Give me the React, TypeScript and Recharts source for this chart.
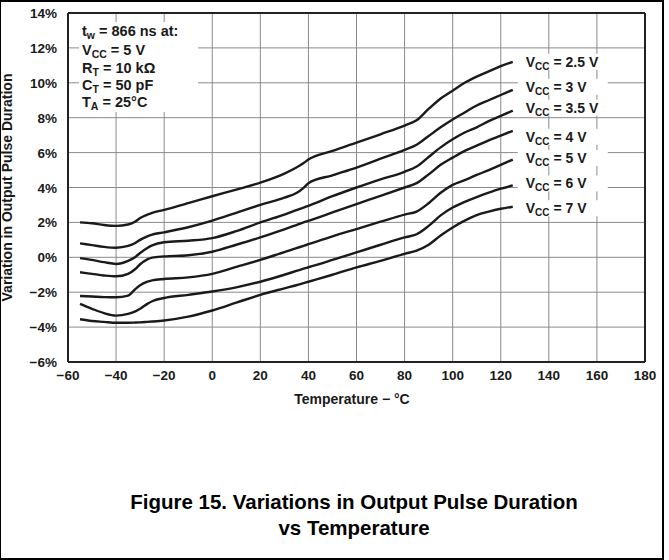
import { CartesianGrid, LabelList, Line, LineChart, ReferenceLine, XAxis, YAxis } from "recharts";

// Temperature points (°C) shared by all curves.
const TEMPS = [
  -55, -50, -45, -40, -35, -32, -30, -27, -25, -20, -10, 0, 10, 20, 30, 35, 38, 40, 50, 60, 70, 80,
  85, 90, 95, 100, 105, 110, 115, 120, 125,
];

// Variation in output pulse duration (%) per supply voltage.
const VCC_2_5 = [
  2.0, 1.95, 1.85, 1.8, 1.88, 2.05, 2.25, 2.45, 2.55, 2.72, 3.1, 3.5, 3.88, 4.28, 4.8, 5.15, 5.4, 5.6,
  6.1, 6.57, 7.05, 7.55, 7.85, 8.5, 9.1, 9.55, 10.0, 10.35, 10.65, 10.95, 11.2,
];
const VCC_3 = [
  0.8, 0.7, 0.6, 0.55, 0.65, 0.82, 1.0, 1.2, 1.3, 1.43, 1.72, 2.1, 2.55, 3.0, 3.42, 3.68, 3.98, 4.25,
  4.7, 5.14, 5.65, 6.15, 6.45, 6.95, 7.45, 7.9, 8.3, 8.7, 9.0, 9.3, 9.6,
];
const VCC_3_5 = [
  -0.05, -0.15, -0.28, -0.38, -0.2, 0.02, 0.25, 0.53, 0.68, 0.86, 0.95, 1.1, 1.5, 2.0, 2.45, 2.7, 2.85,
  2.95, 3.5, 4.0, 4.47, 4.9, 5.2, 5.75, 6.3, 6.76, 7.15, 7.45, 7.8, 8.1, 8.4,
];
const VCC_4 = [
  -0.86, -0.95, -1.04, -1.09, -0.95, -0.67, -0.4, -0.12, -0.02, 0.05, 0.12, 0.32, 0.72, 1.14, 1.6, 1.85,
  2.0, 2.09, 2.57, 3.05, 3.52, 4.0, 4.25, 4.75, 5.3, 5.71, 6.1, 6.4, 6.7, 6.97, 7.25,
];
const VCC_5 = [
  -2.22, -2.25, -2.28, -2.29, -2.2, -1.82, -1.6, -1.4, -1.32, -1.24, -1.15, -0.95, -0.55, -0.15, 0.3,
  0.52, 0.66, 0.75, 1.2, 1.62, 2.04, 2.45, 2.62, 3.1, 3.7, 4.15, 4.42, 4.72, 5.0, 5.3, 5.6,
];
const VCC_6 = [
  -2.67, -2.95, -3.2, -3.34, -3.24, -3.1, -2.95, -2.67, -2.52, -2.33, -2.15, -1.96, -1.72, -1.4, -1.0,
  -0.78, -0.65, -0.57, -0.15, 0.28, 0.72, 1.14, 1.32, 1.8, 2.4, 2.85, 3.18, 3.45, 3.7, 3.93, 4.12,
];
const VCC_7 = [
  -3.55, -3.65, -3.7, -3.75, -3.75, -3.74, -3.73, -3.7, -3.68, -3.62, -3.4, -3.05, -2.6, -2.15, -1.78,
  -1.6, -1.48, -1.4, -1.0, -0.58, -0.2, 0.2, 0.38, 0.72, 1.25, 1.71, 2.1, 2.42, 2.62, 2.78, 2.9,
];

const SERIES = [
  { key: "v25", name: "2.5 V", values: VCC_2_5 },
  { key: "v3", name: "3 V", values: VCC_3 },
  { key: "v35", name: "3.5 V", values: VCC_3_5 },
  { key: "v4", name: "4 V", values: VCC_4 },
  { key: "v5", name: "5 V", values: VCC_5 },
  { key: "v6", name: "6 V", values: VCC_6 },
  { key: "v7", name: "7 V", values: VCC_7 },
];

const X_TICKS = [-60, -40, -20, 0, 20, 40, 60, 80, 100, 120, 140, 160, 180];
const Y_TICKS = [-6, -4, -2, 0, 2, 4, 6, 8, 10, 12, 14];

// small vertical nudges so the end labels don't collide (px)
const LABEL_DY = [0, -3, -3, 6, -1.5, -2, 1.5];

const FONT = "'Liberation Sans', Arial, Helvetica, sans-serif";
const INK = "#1a1a1a";

const data = TEMPS.map((t, i) => {
  const row: Record<string, number> = { t };
  SERIES.forEach((s) => {
    row[s.key] = s.values[i];
  });
  return row;
});

const minus = (v: number) => (v < 0 ? `\u2212${Math.abs(v)}` : `${v}`);

function XTick({ x, y, payload }: any) {
  return (
    <text x={x} y={y + 18} textAnchor="middle" fontFamily={FONT} fontWeight="bold" fontSize={13.5} fill={INK}>
      {minus(payload.value)}
    </text>
  );
}

function YTick({ x, y, payload }: any) {
  return (
    <text x={x - 11} y={y + 5} textAnchor="end" fontFamily={FONT} fontWeight="bold" fontSize={13.5} fill={INK}>
      {minus(payload.value)}%
    </text>
  );
}

function endLabel(seriesIndex: number) {
  const last = TEMPS.length - 1;
  return (props: any) => {
    const { x, y, index } = props;
    if (index !== last) return <g />;
    const cy = y + LABEL_DY[seriesIndex];
    return (
      <g>
        <rect x={x + 5} y={cy - 8} width={90} height={16} fill="#fff" />
        <text x={x + 13} y={cy + 5} fontFamily={FONT} fontWeight="bold" fontSize={14} fill={INK}>
          V
          <tspan fontSize={10} dy={3}>
            CC
          </tspan>
          <tspan dy={-3}> = {SERIES[seriesIndex].name}</tspan>
        </text>
      </g>
    );
  };
}

function Sub({ main, sub, rest, y }: { main: string; sub: string; rest: string; y: number }) {
  return (
    <text x={82} y={y} fontFamily={FONT} fontWeight="bold" fontSize={14.5} fill={INK}>
      {main}
      <tspan fontSize={10.5} dy={3}>
        {sub}
      </tspan>
      <tspan dy={-3}>{rest}</tspan>
    </text>
  );
}

export default function App() {
  return (
    <div style={{ position: "relative", width: 669, height: 560, background: "#fff" }}>
      <style>{`body{margin:0}`}</style>
      <LineChart width={669} height={560} data={data} margin={{ top: 13, right: 24, left: 0, bottom: 150 }}>
        <CartesianGrid stroke="#8a8a8a" strokeWidth={1} />
        <XAxis
          dataKey="t"
          type="number"
          domain={[-60, 180]}
          ticks={X_TICKS}
          height={48}
          tickLine={false}
          tickSize={0}
          tickMargin={0}
          axisLine={{ stroke: "#222", strokeWidth: 2 }}
          tick={<XTick />}
          interval={0}
        />
        <YAxis
          type="number"
          domain={[-6, 14]}
          ticks={Y_TICKS}
          width={68}
          tickLine={false}
          tickSize={0}
          tickMargin={0}
          axisLine={{ stroke: "#222", strokeWidth: 2 }}
          tick={<YTick />}
          interval={0}
        />
        <ReferenceLine y={14} stroke="#222" strokeWidth={2} />
        <ReferenceLine x={180} stroke="#222" strokeWidth={2} />
        {SERIES.map((s, i) => (
          <Line
            key={s.key}
            dataKey={s.key}
            type="monotone"
            stroke={INK}
            strokeWidth={2.4}
            dot={false}
            isAnimationActive={false}
          >
            <LabelList dataKey={s.key} content={endLabel(i)} />
          </Line>
        ))}
      </LineChart>

      <svg width={669} height={560} style={{ position: "absolute", left: 0, top: 0, pointerEvents: "none" }}>
        {/* condition box top-left */}
        <rect x={79} y={22} width={119} height={90} fill="#fff" />
        <Sub main="t" sub="w" rest=" = 866 ns at:" y={35.7} />
        <Sub main="V" sub="CC" rest=" = 5 V" y={55} />
        <Sub main="R" sub="T" rest=" = 10 kΩ" y={73.3} />
        <Sub main="C" sub="T" rest=" = 50 pF" y={90} />
        <Sub main="T" sub="A" rest=" = 25°C" y={106.7} />

        <text
          transform="translate(12,187.5) rotate(-90)"
          textAnchor="middle"
          fontFamily={FONT}
          fontWeight="bold"
          fontSize={14}
          fill={INK}
        >
          Variation in Output Pulse Duration
        </text>
        <text x={352} y={403.5} textAnchor="middle" fontFamily={FONT} fontWeight="bold" fontSize={14} fill={INK}>
          Temperature − °C
        </text>

        <text x={354} y={509} textAnchor="middle" fontFamily={FONT} fontWeight="bold" fontSize={20.5} fill="#000">
          Figure 15. Variations in Output Pulse Duration
        </text>
        <text x={354} y={535} textAnchor="middle" fontFamily={FONT} fontWeight="bold" fontSize={20.5} fill="#000">
          vs Temperature
        </text>

        {/* outer frame */}
        <line x1={0} y1={1} x2={664} y2={1} stroke="#000" strokeWidth={2} />
        <line x1={663} y1={0} x2={663} y2={560} stroke="#000" strokeWidth={2} />
        <line x1={0} y1={559} x2={664} y2={559} stroke="#000" strokeWidth={2} />
        <line x1={0.5} y1={0} x2={0.5} y2={560} stroke="#000" strokeWidth={1} />
      </svg>
    </div>
  );
}
